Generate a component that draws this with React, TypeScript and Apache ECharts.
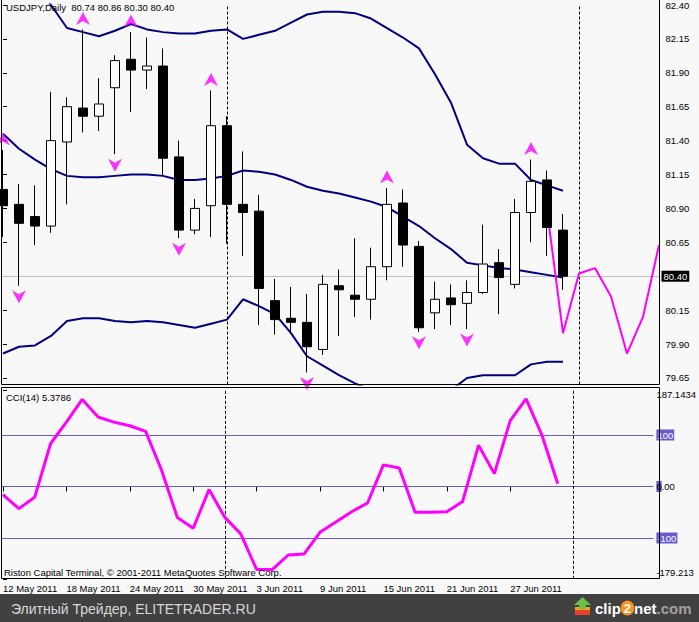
import React, { useEffect, useRef } from 'react';
import * as echarts from 'echarts';

// ---------- data ----------
const symbolName = 'USDJPY,Daily';
const opens = [81.04, 80.93, 80.84, 80.77, 81.39, 81.64, 81.58, 81.79, 82.0, 81.92, 81.95, 81.28, 80.74, 80.92, 81.51, 80.93, 80.88, 80.22, 80.09, 80.06, 79.86, 80.33, 80.26, 80.23, 80.47, 80.94, 80.62, 80.13, 80.24, 80.2, 80.28, 80.5, 80.34, 80.87, 81.11, 80.74];
const highs = [81.33, 81.08, 81.07, 81.76, 81.72, 82.22, 81.86, 82.03, 82.2, 82.16, 82.08, 81.4, 80.97, 81.77, 81.58, 81.32, 81.0, 80.38, 80.32, 80.27, 80.41, 80.45, 80.68, 80.61, 81.05, 81.04, 80.66, 80.36, 80.34, 80.37, 80.78, 80.6, 80.97, 81.26, 81.18, 80.86];
const lows = [80.69, 80.33, 80.63, 80.72, 80.93, 81.46, 81.47, 81.3, 81.61, 81.78, 81.14, 80.68, 80.71, 80.69, 80.64, 80.55, 80.04, 79.97, 79.98, 79.69, 79.82, 79.96, 80.1, 80.08, 80.37, 80.47, 79.99, 80.01, 80.04, 80.01, 80.27, 80.12, 80.31, 80.65, 80.55, 80.3];
const closes = [80.92, 80.79, 80.77, 81.4, 81.65, 81.58, 81.67, 81.99, 81.92, 81.95, 81.27, 80.74, 80.9, 81.51, 80.93, 80.87, 80.31, 80.08, 80.06, 79.88, 80.34, 80.3, 80.23, 80.47, 80.93, 80.63, 80.02, 80.23, 80.19, 80.28, 80.49, 80.39, 80.87, 81.1, 80.76, 80.4];

const upperBand = [82.72, 82.64, 82.55, 82.4, 82.23, 82.2, 82.17, 82.21, 82.26, 82.22, 82.2, 82.19, 82.19, 82.21, 82.22, 82.15, 82.18, 82.21, 82.27, 82.33, 82.35, 82.35, 82.34, 82.3, 82.23, 82.16, 82.08, 81.89, 81.68, 81.37, 81.27, 81.23, 81.23, 81.11, 81.07, 81.03];
const middleBand = [81.45, 81.34, 81.26, 81.19, 81.14, 81.13, 81.13, 81.14, 81.15, 81.15, 81.14, 81.11, 81.11, 81.12, 81.14, 81.18, 81.17, 81.15, 81.11, 81.06, 81.03, 81.01, 80.98, 80.95, 80.91, 80.84, 80.77, 80.68, 80.6, 80.5, 80.48, 80.46, 80.45, 80.43, 80.41, 80.39];
const lowerBand = [79.83, 79.88, 79.89, 79.96, 80.07, 80.09, 80.09, 80.07, 80.06, 80.07, 80.06, 80.04, 80.02, 80.05, 80.08, 80.23, 80.18, 80.12, 79.98, 79.81, 79.74, 79.67, 79.61, 79.56, 79.53, 79.51, 79.51, 79.53, 79.56, 79.65, 79.67, 79.67, 79.67, 79.75, 79.77, 79.77];

const forecastStartBar = 34;
const forecastValues = [80.89, 79.98, 80.42, 80.46, 80.25, 79.83, 80.1, 80.63];

const fractalUpBars = [0, 5, 8, 13, 24, 33];
const fractalDownBars = [1, 7, 11, 19, 26, 29];

const cciValues = [-16, -43, -21, 83, 125, 169, 135, 125, 118, 107, 32, -60, -81, -6, -60, -92, -161, -161, -133, -131, -89, -69, -49, -32, 42, 36, -50, -50, -49, -29, 80, 25, 128, 170, 100, 5.3786];
const cciLevels = [100, 0, -100];
const cciMin = -179.213;
const cciMax = 187.1434;

const dateTickBars = [0, 4, 8, 12, 16, 20, 24, 28, 32];
const dateTickLabels = ['12 May 2011', '18 May 2011', '24 May 2011', '30 May 2011', '3 Jun 2011', '9 Jun 2011', '15 Jun 2011', '21 Jun 2011', '27 Jun 2011'];
const separatorBars = [14, 36];

const priceMin = 79.6016;
const priceMax = 82.4044;
const priceTicks = [79.65, 79.9, 80.15, 80.4, 80.65, 80.9, 81.15, 81.4, 81.65, 81.9, 82.15, 82.4];

const xMin = -0.09375;
const xMax = 41.03125;

const FONT = '"Liberation Sans", Arial, sans-serif';
const NAVY = '#000080';
const MAGENTA = '#ff00ff';
const LEVEL = '#6a5acd';

export default function App() {
  const ref = useRef<HTMLDivElement>(null);

  useEffect(() => {
    if (!ref.current) return;
    const chart = echarts.init(ref.current, null, { renderer: 'svg' });
    const last = opens.length - 1;
    const lastClose = closes[last];
    const header = `${symbolName}  ${opens[last].toFixed(2)} ${highs[last].toFixed(2)} ${lows[last].toFixed(2)} ${closes[last].toFixed(2)}`;
    const candleData = opens.map((o, i) => [i, o, closes[i], lows[i], highs[i]]);
    const near = (a: number, b: number) => Math.abs(a - b) < 1e-6;

    const bandSeries = [upperBand, middleBand, lowerBand].map((arr, k) => ({
      type: 'line',
      xAxisIndex: 0,
      yAxisIndex: 0,
      data: arr.map((v, i) => [i, v]),
      symbol: 'none',
      lineStyle: { color: NAVY, width: 2 },
      z: 2,
      clip: true,
      silent: true,
      ...(k === 1
        ? {
            markLine: {
              silent: true,
              symbol: ['none', 'none'],
              z: 1,
              animation: false,
              data: [
                ...separatorBars.map((b) => ({
                  xAxis: b,
                  lineStyle: { color: '#000', type: [3, 2], width: 1 },
                  label: { show: false },
                })),
                {
                  yAxis: lastClose,
                  lineStyle: { color: '#c0c0c0', type: 'solid', width: 1 },
                  label: {
                    show: true,
                    position: 'end',
                    distance: 2,
                    formatter: lastClose.toFixed(2),
                    backgroundColor: '#000',
                    color: '#fff',
                    fontSize: 9.5,
                    fontFamily: FONT,
                    padding: [1, 2, 0, 2],
                  },
                },
              ],
            },
          }
        : {}),
    }));

    const option: any = {
      animation: false,
      backgroundColor: '#f8f8f8',
      textStyle: { fontFamily: FONT },
      grid: [
        { left: 1.5, top: 0, width: 658, height: 384.5 },
        { left: 1.5, top: 390.1, width: 658, height: 188.7 },
      ],
      xAxis: [
        { type: 'value', gridIndex: 0, min: xMin, max: xMax, show: false, splitLine: { show: false } },
        {
          type: 'value',
          gridIndex: 1,
          min: xMin,
          max: xMax,
          offset: -0.3,
          axisLine: { show: false },
          splitLine: { show: false },
          axisTick: { show: true, customValues: dateTickBars, length: 5, lineStyle: { color: '#000' } },
          axisLabel: {
            show: true,
            customValues: dateTickBars,
            formatter: (v: number) => {
              const k = dateTickBars.indexOf(Math.round(v));
              return k >= 0 ? dateTickLabels[k] : '';
            },
            align: 'left',
            margin: 5,
            fontSize: 9.5,
            color: '#000',
            fontFamily: FONT,
          },
        },
      ],
      yAxis: [
        {
          type: 'value',
          gridIndex: 0,
          position: 'right',
          min: priceMin,
          max: priceMax,
          axisLine: { show: false },
          splitLine: { show: false },
          axisTick: { show: true, customValues: priceTicks, length: 4, lineStyle: { color: '#000' } },
          axisLabel: {
            show: true,
            customValues: priceTicks.filter((p) => !near(p, lastClose)),
            formatter: (v: number) => v.toFixed(2),
            margin: 6,
            fontSize: 9.5,
            color: '#000',
            fontFamily: FONT,
          },
        },
        {
          type: 'value',
          gridIndex: 1,
          position: 'right',
          min: cciMin,
          max: cciMax,
          axisLine: { show: false },
          splitLine: { show: false },
          axisTick: { show: true, customValues: [cciMin, ...cciLevels, cciMax], length: 4, lineStyle: { color: '#000' } },
          axisLabel: {
            show: true,
            customValues: [cciMin, ...cciLevels, cciMax],
            margin: 3,
            fontSize: 9.5,
            color: '#000',
            fontFamily: FONT,
            formatter: (v: number) => {
              if (near(v, cciMax)) return `{top|${cciMax.toFixed(4)}}`;
              if (near(v, cciMin)) return `{bot|${cciMin.toFixed(3)}}`;
              if (near(v, 0)) return '{z|0}{n|.00}';
              return `{lv|${v}}`;
            },
            rich: {
              top: { padding: [8, 0, 0, 0], fontSize: 9.5, color: '#000', fontFamily: FONT },
              bot: { padding: [0, 0, 12, 0], fontSize: 9.5, color: '#000', fontFamily: FONT },
              z: { backgroundColor: LEVEL, color: '#000', fontSize: 9.5, padding: [1, 0, 0, 0], fontFamily: FONT },
              n: { color: '#000', fontSize: 9.5, fontFamily: FONT },
              lv: { backgroundColor: LEVEL, color: '#fff', fontSize: 9.5, padding: [1, 1, 0, 1], fontFamily: FONT },
            },
          },
        },
      ],
      series: [
        ...bandSeries,
        {
          type: 'line',
          xAxisIndex: 0,
          yAxisIndex: 0,
          data: forecastValues.map((v, k) => [forecastStartBar + k, v]),
          symbol: 'none',
          lineStyle: { color: MAGENTA, width: 2 },
          z: 2,
          clip: true,
          silent: true,
        },
        {
          type: 'candlestick',
          xAxisIndex: 0,
          yAxisIndex: 0,
          data: candleData,
          encode: { x: 0, y: [1, 2, 3, 4] },
          barWidth: 10,
          clip: true,
          silent: true,
          z: 5,
          itemStyle: {
            color: '#ffffff',
            color0: '#000000',
            borderColor: '#000000',
            borderColor0: '#000000',
            borderWidth: 1,
          },
        },
        {
          type: 'scatter',
          xAxisIndex: 0,
          yAxisIndex: 0,
          data: fractalUpBars.map((b) => [b, highs[b]]),
          symbol: 'path://M7,0L14,13L7,9L0,13Z',
          symbolSize: [14, 13],
          symbolOffset: [0, -11],
          itemStyle: { color: MAGENTA },
          z: 6,
          silent: true,
          clip: true,
        },
        {
          type: 'scatter',
          xAxisIndex: 0,
          yAxisIndex: 0,
          data: fractalDownBars.map((b) => [b, lows[b]]),
          symbol: 'path://M0,0L7,4L14,0L7,13Z',
          symbolSize: [14, 13],
          symbolOffset: [0, 11],
          itemStyle: { color: MAGENTA },
          z: 6,
          silent: true,
          clip: true,
        },
        {
          type: 'line',
          xAxisIndex: 1,
          yAxisIndex: 1,
          data: cciValues.map((v, i) => [i, v]),
          symbol: 'none',
          lineStyle: { color: MAGENTA, width: 3 },
          z: 3,
          clip: true,
          silent: true,
          markLine: {
            silent: true,
            symbol: ['none', 'none'],
            z: 1,
            animation: false,
            lineStyle: { color: LEVEL, type: 'solid', width: 1, opacity: 1 },
            data: [
              ...cciLevels.map((l) => ({
                yAxis: l,
                lineStyle: { color: LEVEL, type: 'solid', width: 1, opacity: 1 },
                label: { show: false },
              })),
              ...separatorBars.map((b) => ({
                xAxis: b,
                lineStyle: { color: '#000', type: [3, 2], width: 1 },
                label: { show: false },
              })),
            ],
          },
        },
      ],
      graphic: [
        {
          type: 'rect',
          z: 100,
          silent: true,
          shape: { x: 1.5, y: -0.5, width: 658, height: 385 },
          style: { fill: 'none', stroke: '#000', lineWidth: 1 },
        },
        {
          type: 'rect',
          z: 100,
          silent: true,
          shape: { x: 1.5, y: 387.5, width: 658, height: 191 },
          style: { fill: 'none', stroke: '#000', lineWidth: 1 },
        },
        {
          type: 'text',
          z: 100,
          x: 6,
          y: 7.5,
          silent: true,
          style: { text: header, fill: '#000', fontSize: 9.5, fontFamily: FONT, verticalAlign: 'middle' },
        },
        {
          type: 'text',
          z: 100,
          x: 6,
          y: 397.5,
          silent: true,
          style: { text: `CCI(14) ${cciValues[cciValues.length - 1].toFixed(4)}`, fill: '#000', fontSize: 9.5, fontFamily: FONT, verticalAlign: 'middle' },
        },
        {
          type: 'text',
          z: 100,
          x: 4,
          y: 572.5,
          silent: true,
          style: { text: 'Riston Capital Terminal, © 2001-2011 MetaQuotes Software Corp.', fill: '#000', fontSize: 9.5, fontFamily: FONT, verticalAlign: 'middle' },
        },
        {
          type: 'rect',
          z: 100,
          silent: true,
          shape: { x: 0, y: 594, width: 699, height: 28 },
          style: { fill: '#414141' },
        },
        {
          type: 'text',
          z: 101,
          x: 11,
          y: 608.5,
          silent: true,
          style: { text: 'Элитный Трейдер, ELITETRADER.RU', fill: '#d8d8d8', fontSize: 14, fontFamily: FONT, verticalAlign: 'middle' },
        },
        { type: 'rect', z: 102, silent: true, shape: { x: 575, y: 610, width: 15, height: 5 }, style: { fill: '#e8412c' } },
        { type: 'rect', z: 102, silent: true, shape: { x: 575, y: 607, width: 15, height: 3 }, style: { fill: '#f7a21b' } },
        {
          type: 'polygon',
          z: 103,
          silent: true,
          shape: { points: [[582.5, 597], [591, 605], [586, 605], [586, 609], [579, 609], [579, 605], [574, 605]] },
          style: { fill: '#6cc04a' },
        },
        {
          type: 'text',
          z: 103,
          x: 595,
          y: 608,
          silent: true,
          style: {
            text: '{w|clip}{o|2}{w|net}{g|.com}',
            verticalAlign: 'middle',
            rich: {
              w: { fill: '#ffffff', fontSize: 15, fontWeight: 'bold', fontFamily: FONT },
              o: { fill: '#ffffff', fontSize: 13, fontWeight: 'bold', fontFamily: FONT, backgroundColor: '#f7941d', borderRadius: 8, padding: [1, 3, 1, 3] },
              g: { fill: '#a0a0a0', fontSize: 15, fontWeight: 'bold', fontFamily: FONT },
            },
          },
        },
      ],
    };

    chart.setOption(option);
    return () => chart.dispose();
  }, []);

  return <div ref={ref} style={{ position: 'fixed', left: 0, top: 0, width: 699, height: 622 }} />;
}
